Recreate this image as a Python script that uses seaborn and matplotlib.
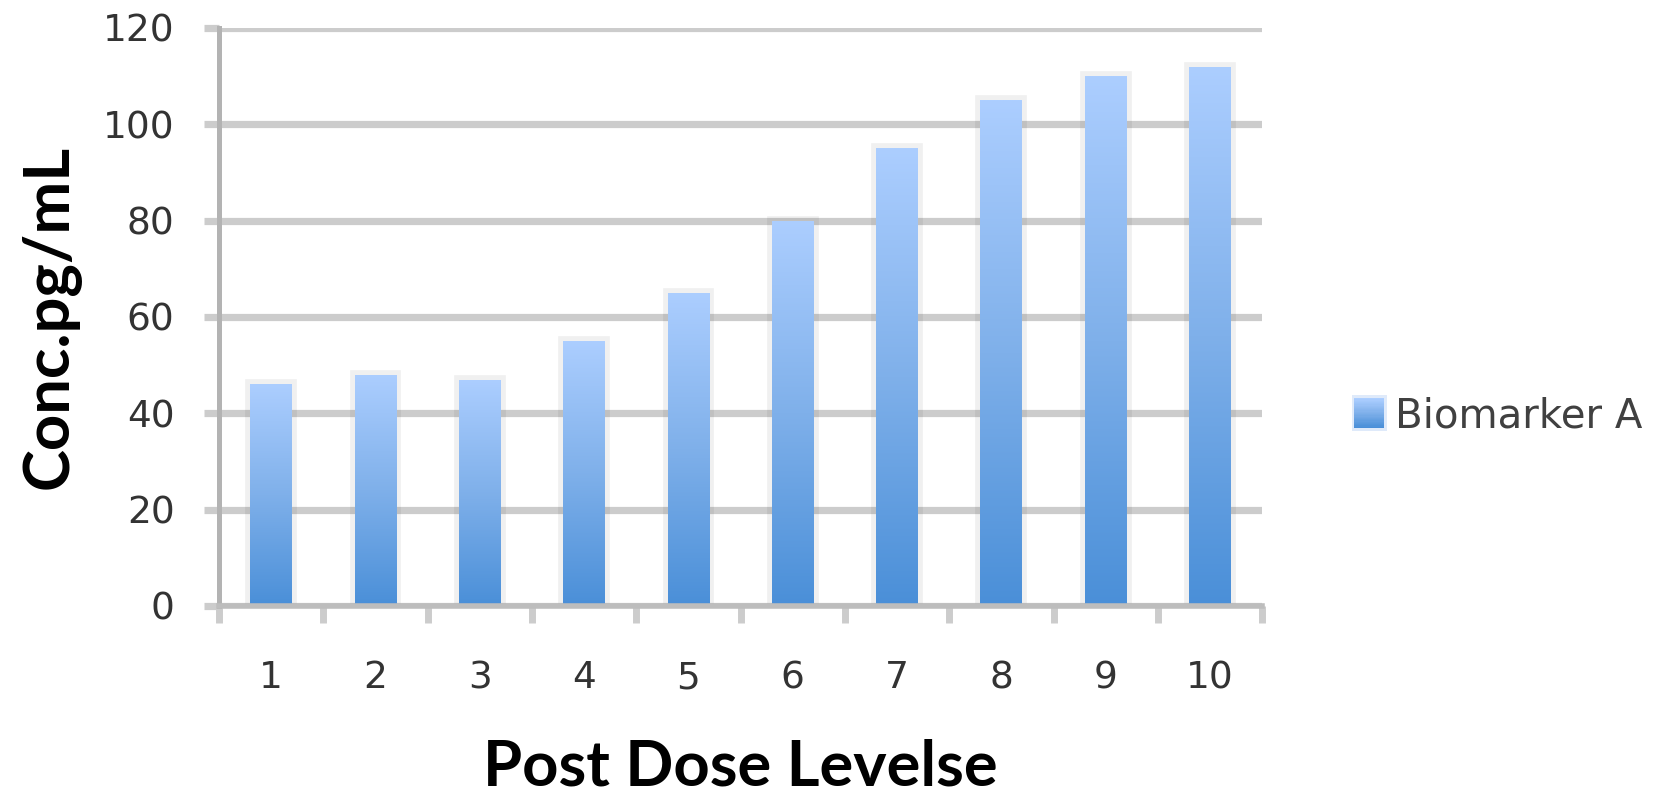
import numpy as np
import matplotlib
matplotlib.use("Agg")
import matplotlib.pyplot as plt
from matplotlib.colors import LinearSegmentedColormap
from matplotlib.patches import Rectangle
from matplotlib.legend_handler import HandlerBase
from matplotlib.ticker import FixedLocator
import seaborn as sns

# Data
dose_levels = ["1", "2", "3", "4", "5", "6", "7", "8", "9", "10"]
concentration = [46, 48, 47, 55, 65, 80, 95, 105, 110, 112]
series_name = "Biomarker A"
y_ticks = [0, 20, 40, 60, 80, 100, 120]

sns.set_theme(style="white")
plt.rcParams["font.family"] = ["DejaVu Sans"]

bar_cmap = LinearSegmentedColormap.from_list("bar_fill", ["#4a8fd8", "#7fb0ea", "#acceff"])

fig = plt.figure(figsize=(16.62, 8.0), dpi=100)
ax = fig.add_axes([0.1318, 0.2425, 0.6276, 0.7225])

sns.barplot(x=dose_levels, y=concentration, ax=ax, width=0.4,
            color="#6aa3e3", saturation=1, zorder=2)

# Gradient fill clipped to each bar, with a soft shadow edge around it
grad = np.linspace(0, 1, 256).reshape(-1, 1)
for p in list(ax.patches):
    x0, y0 = p.get_x(), p.get_y()
    w, h = p.get_width(), p.get_height()
    p.set_facecolor("none")
    p.set_edgecolor((0, 0, 0, 0.06))
    p.set_linewidth(7)
    im = ax.imshow(grad, cmap=bar_cmap, origin="lower", aspect="auto",
                   extent=[x0, x0 + w, y0, y0 + h], zorder=3, interpolation="bilinear")
    im.set_clip_path(p)

ax.set_xlim(-0.5, len(dose_levels) - 0.5)
ax.set_ylim(0, 120)
ax.set_yticks(y_ticks)
ax.set_yticklabels([str(v) for v in y_ticks])

# Grid and spines
ax.set_axisbelow(True)
ax.yaxis.grid(True, color="#cccccc", linewidth=5.2)
ax.xaxis.grid(False)
for side in ("top", "right"):
    ax.spines[side].set_visible(False)
ax.spines["left"].set_color("#b3b3b3")
ax.spines["left"].set_linewidth(3.6)
ax.spines["bottom"].set_color("#bdbdbd")
ax.spines["bottom"].set_linewidth(4.0)
ax.spines["left"].set_zorder(4)
ax.spines["bottom"].set_zorder(4)

# Ticks
ax.tick_params(axis="y", which="major", left=True, length=11, width=5.2,
               color="#cccccc", pad=21, labelsize=27, labelcolor="#333333")
ax.xaxis.set_minor_locator(FixedLocator(np.arange(-0.5, len(dose_levels), 1.0)))
ax.tick_params(axis="x", which="minor", bottom=True, length=12, width=5.0, color="#cccccc")
ax.tick_params(axis="x", which="major", bottom=True, length=0, pad=39,
               labelsize=27, labelcolor="#333333")

# Axis titles
ax.set_xlabel("Post Dose Levelse", family="Lato", fontweight="bold", fontsize=45.5,
              color="black", va="center")
ax.xaxis.set_label_coords(0.5, -0.28)
ax.set_ylabel("Conc.pg/mL", family="Lato", fontweight="bold", fontsize=45.5,
              color="black", va="center")
ax.yaxis.set_label_coords(-0.162, 0.5)


class GradientSwatch(HandlerBase):
    def create_artists(self, legend, orig_handle, xdescent, ydescent,
                       width, height, fontsize, trans):
        side = min(width, height)
        x0 = -xdescent + (width - side) / 2
        y0 = -ydescent + (height - side) / 2
        n = 24
        arts = [Rectangle((x0 - 2, y0 - 2), side + 4, side + 4,
                          facecolor="#dfeafa", edgecolor="none", transform=trans)]
        for i in range(n):
            arts.append(Rectangle((x0, y0 + side * i / n), side, side / n + 0.4,
                                  facecolor=bar_cmap(i / (n - 1)), edgecolor="none",
                                  transform=trans))
        return arts


swatch = Rectangle((0, 0), 1, 1)
leg = fig.legend(handles=[swatch], labels=[series_name],
                 handler_map={swatch: GradientSwatch()},
                 loc="center left", bbox_to_anchor=(1354 / 1662, 1 - 416 / 800),
                 frameon=False, fontsize=29, handlelength=0.76, handleheight=0.76,
                 handletextpad=0.25, borderpad=0, borderaxespad=0)
for t in leg.get_texts():
    t.set_color("#404040")

fig.savefig("out.png", dpi=100, facecolor="white")
